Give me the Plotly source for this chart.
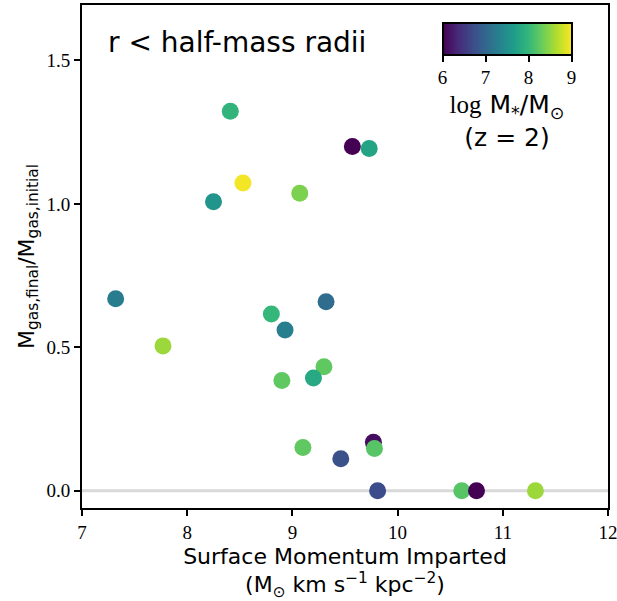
import plotly.graph_objects as go

# Data
momentum = [8.41, 9.57, 9.73, 8.53, 9.07, 8.25, 7.32, 9.32, 8.80, 8.93, 7.77,
            9.30, 9.20, 8.90, 9.77, 9.78, 9.10, 9.46, 9.81, 10.61, 10.75, 11.31]
gas_ratio = [1.323, 1.200, 1.193, 1.073, 1.037, 1.007, 0.669, 0.659, 0.616, 0.560, 0.505,
             0.432, 0.393, 0.384, 0.169, 0.147, 0.151, 0.112, 0.0, 0.0, 0.0, 0.0]
log_mstar = [7.95, 6.0, 7.75, 8.95, 8.4, 7.55, 7.25, 7.05, 8.0, 7.3, 8.55,
             8.25, 7.8, 8.25, 6.1, 8.2, 8.25, 6.75, 6.7, 8.2, 6.0, 8.55]
cbar_ticks = [6, 7, 8, 9]
x_ticks = [7, 8, 9, 10, 11, 12]
y_ticks = [0.0, 0.5, 1.0, 1.5]

serif = "Liberation Serif"
sans = "DejaVu Sans"

fig = go.Figure()

fig.add_trace(go.Scatter(
    x=[7, 12], y=[0, 0], mode="lines",
    line=dict(color="#d9d9d9", width=3), hoverinfo="skip", showlegend=False))

fig.add_trace(go.Scatter(
    x=momentum, y=gas_ratio, mode="markers", showlegend=False,
    marker=dict(
        size=17, color=log_mstar, colorscale="Viridis", cmin=6, cmax=9,
        line=dict(width=0),
        colorbar=dict(
            orientation="h", x=0.808, xanchor="center", y=0.964, yanchor="top",
            lenmode="pixels", len=129, thickness=32, thicknessmode="pixels",
            outlinewidth=2, outlinecolor="black",
            tickvals=cbar_ticks, ticks="outside", ticklen=6, tickwidth=1.5,
            tickcolor="black", tickfont=dict(family=serif, size=19, color="black"),
            xpad=0, ypad=0,
            title=dict(
                text='<span style="font-family:Liberation Serif">log</span> M<sub>*</sub>/M<sub>⊙</sub><br>(z = 2)',
                side="bottom", font=dict(family=sans, size=25, color="black")),
        ),
    ),
))

fig.add_annotation(
    x=0.045, y=0.963, xref="paper", yref="paper", xanchor="left", yanchor="top",
    text="r &lt; half-mass radii", showarrow=False,
    font=dict(family=sans, size=28, color="black"))

axis_common = dict(
    showgrid=False, zeroline=False, showline=True, linecolor="black", linewidth=2,
    mirror=True, ticks="outside", ticklen=6, tickwidth=1.5, tickcolor="black",
    ticklabeloverflow="allow", automargin=False,
    tickfont=dict(family=serif, size=19, color="black"))

fig.update_xaxes(
    range=[7, 12], tickvals=x_ticks, ticktext=[str(t) for t in x_ticks],
    title=dict(text="Surface Momentum Imparted<br>(M<sub>⊙</sub> km s<sup>−1</sup> kpc<sup>−2</sup>)",
               font=dict(family=sans, size=22, color="black"), standoff=12),
    **axis_common)
fig.update_yaxes(
    range=[-0.06, 1.693], tickvals=y_ticks, ticktext=["0.0", "0.5", "1.0", "1.5"],
    title=dict(text="M<sub>gas,final</sub>/M<sub>gas,initial</sub>",
               font=dict(family=sans, size=22, color="black"), standoff=6),
    **axis_common)

fig.update_layout(
    width=617, height=601,
    margin=dict(l=82, r=9, t=5, b=93, autoexpand=False),
    plot_bgcolor="white", paper_bgcolor="white",
)

fig.write_html("out.html")
